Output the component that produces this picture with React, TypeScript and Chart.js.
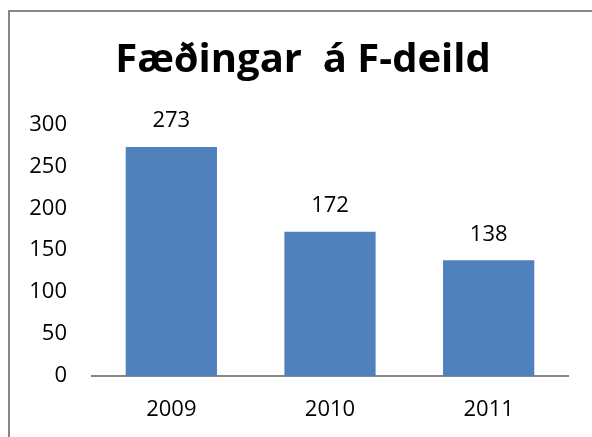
import React, { useEffect, useRef } from "react";
import { Chart, registerables } from "chart.js";

Chart.register(...registerables);

const categories = ["2009", "2010", "2011"];
const values = [273, 172, 138];
const titleText = "Fæðingar  á F-deild";
const yMin = 0;
const yMax = 300;
const yStep = 50;

const FONT = "'Open Sans', 'Liberation Sans', sans-serif";

const dataLabels = {
  id: "dataLabels",
  afterDatasetsDraw(chart: any) {
    const ctx = chart.ctx;
    const meta = chart.getDatasetMeta(0);
    ctx.save();
    ctx.font = `22px ${FONT}`;
    ctx.fillStyle = "#000";
    ctx.textAlign = "center";
    ctx.textBaseline = "middle";
    meta.data.forEach((bar: any, i: number) => {
      ctx.fillText(String(chart.data.datasets[0].data[i]), bar.x, bar.y - 26);
    });
    ctx.restore();
  },
};

const titleDraw = {
  id: "titleDraw",
  afterDraw(chart: any) {
    const ctx = chart.ctx;
    ctx.save();
    ctx.font = `bold 40px ${FONT}`;
    ctx.fillStyle = "#000";
    ctx.textAlign = "center";
    ctx.textBaseline = "alphabetic";
    ctx.fillText(titleText, 303, 72);
    ctx.restore();
  },
};

export default function App() {
  const ref = useRef<HTMLCanvasElement>(null);
  useEffect(() => {
    if (!ref.current) return;
    const chart = new Chart(ref.current, {
      type: "bar",
      data: {
        labels: categories,
        datasets: [
          {
            data: values,
            backgroundColor: "#4f81bd",
            borderWidth: 0,
            barPercentage: 0.575,
            categoryPercentage: 1,
          },
        ],
      },
      options: {
        animation: false,
        responsive: false,
        layout: { padding: { top: 124.4, right: 24, bottom: 0, left: 0 } },
        plugins: {
          legend: { display: false },
          tooltip: { enabled: false },
          title: { display: false },
        },
        scales: {
          x: {
            grid: { display: false, drawTicks: false },
            border: { display: true, color: "#868686", width: 2 },
            ticks: { color: "#000", font: { family: FONT, size: 22 }, padding: 21 },
            afterFit: (s: any) => {
              s.height = 61;
            },
          },
          y: {
            min: yMin,
            max: yMax,
            grid: { display: false, drawTicks: false },
            border: { display: false },
            ticks: {
              stepSize: yStep,
              color: "#000",
              font: { family: FONT, size: 22 },
              padding: 25,
            },
            afterFit: (s: any) => {
              s.width = 92;
            },
          },
        },
      },
      plugins: [dataLabels, titleDraw],
    });
    return () => chart.destroy();
  }, []);

  return (
    <div
      style={{
        position: "fixed",
        left: 0,
        top: 0,
        width: 592,
        height: 437,
        overflow: "hidden",
        background: "#fff",
      }}
    >
      <div
        style={{
          position: "absolute",
          left: 8,
          top: 10,
          width: 700,
          height: 600,
          border: "2px solid #868686",
          boxSizing: "border-box",
        }}
      />
      <canvas
        ref={ref}
        width={592}
        height={437}
        style={{ position: "absolute", left: 0, top: 0, width: 592, height: 437 }}
      />
    </div>
  );
}
